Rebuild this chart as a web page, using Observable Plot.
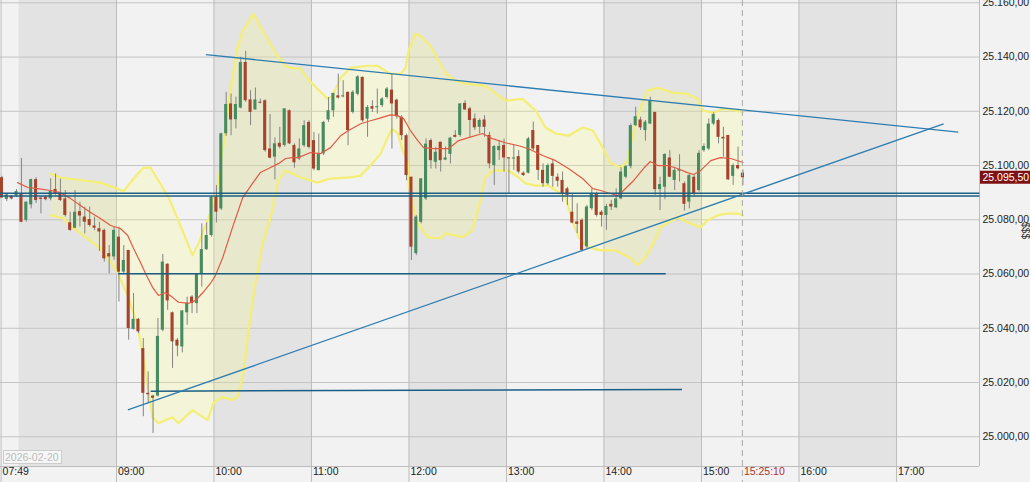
<!DOCTYPE html>
<html><head><meta charset="utf-8">
<script src="https://cdn.jsdelivr.net/npm/d3@7"></script>
<script src="https://cdn.jsdelivr.net/npm/@observablehq/plot@0.6"></script>
<style>
html,body{margin:0;padding:0;background:#f2f2f2;}
#chart{width:1030px;height:482px;overflow:hidden;}
</style></head><body><div id="chart"></div>
<script>
// ---- data ----
const sessionDate = "2026-02-20";
const sessionStart = "07:48";   // first 3-minute bar
const barMinutes = 3;
const open = [25095.5,25087.5,25088.6,25088.7,25089.6,25079.8,25085.5,25094.8,25088,25088.3,25087.7,25091.2,25089.6,25087.7,25078.9,25076.9,25083,25081,25080.1,25077.7,25076.7,25076.1,25067.5,25066.3,25073.6,25060.7,25068.7,25039.6,25043.3,25032.5,25016,25015,25015,25039.3,25063.6,25045.7,25035.6,25033.1,25045.7,25051.5,25049.1,25060.1,25069,25074.2,25088.3,25084,25111.7,25122.7,25116.9,25121.2,25138,25124.2,25120.5,25123.3,25123.9,25106.1,25103.1,25108.2,25107.4,25120.2,25107.4,25102.4,25107.3,25115.9,25109.2,25098.1,25104.3,25116.8,25120.2,25125.7,25125.3,25127,25119.6,25126.3,25132.5,25117.1,25121.7,25121.3,25122.1,25125.1,25127.8,25124.1,25117.8,25111,25095.7,25067.5,25079.1,25087.7,25109.2,25101.2,25108.6,25102,25104.1,25111.1,25111.1,25122.9,25120.9,25117.2,25114.1,25116.8,25111.1,25100,25105.5,25107.4,25102.8,25102.5,25103.3,25097.2,25097.2,25112.9,25107.4,25098.2,25093.3,25100.6,25095.7,25094.5,25091.4,25082.8,25079.2,25079.8,25070,25084.1,25089.6,25082.8,25081.6,25085.7,25084.4,25087.7,25095.7,25099.6,25114.7,25116.8,25112.9,25115.3,25119.6,25091.1,25092,25102.8,25094.5,25097.9,25093.3,25086.5,25095.7,25090.8,25105.5,25106.1,25115.3,25116.6,25110.4,25111.1,25096,25100,25097.2];
const high = [25096,25089.6,25089,25091.2,25102.6,25086.5,25095,25095.5,25088.5,25089,25095.1,25096.9,25095,25090.8,25082.8,25090.8,25086.5,25084.7,25084.7,25081,25079.1,25076.5,25070.5,25077.3,25077.3,25070.5,25068.7,25052.8,25043.6,25036.2,25023.9,25015.3,25043.6,25067.2,25063.8,25046,25036.2,25046.4,25051.5,25052.1,25060.1,25078.5,25078.8,25088.6,25092.6,25111.9,25127,25126.4,25125.2,25139.9,25142.1,25127.6,25128.6,25124.5,25124.2,25118.8,25110.2,25114.1,25120.9,25120.5,25108,25109.8,25116.5,25116.5,25112.2,25111.6,25116.3,25125.1,25126.6,25133.7,25131.3,25127,25127.6,25133.1,25132.7,25122.1,25123.9,25128.2,25125.1,25128.8,25133.7,25124.5,25118.4,25111.6,25095.7,25081.6,25095.1,25109.8,25109.8,25106.7,25108.6,25106.8,25110.4,25112.9,25122.9,25123.9,25121.5,25119,25117.2,25118.4,25112.3,25107.4,25109.2,25109.8,25102.8,25107.4,25105.5,25097.6,25110.4,25116,25107.4,25100.6,25100.6,25101.9,25096.9,25097.6,25092,25089.6,25085.9,25080.4,25085.3,25091.4,25090.2,25083.4,25085.7,25087.1,25091.4,25099.2,25100,25115.3,25121.5,25117.8,25116.6,25125.2,25119.6,25095.7,25104.3,25105.5,25099.4,25104,25093.9,25096.7,25096.3,25105.5,25108,25117.2,25119.4,25117.2,25114.1,25111.1,25100.6,25106.8,25098.4];
const low = [25088,25086.7,25087.3,25088.3,25078.9,25079.1,25084,25086,25082.2,25087,25087,25089,25086.7,25081,25075.7,25076.7,25077.3,25074.8,25077.3,25076,25068.3,25064.4,25060.1,25065,25049.7,25060.1,25035.6,25039.3,25038,25007.4,25012.3,25001.2,25014.7,25038.7,25046.6,25025.2,25029.5,25030.9,25041.1,25045.4,25045.4,25055.2,25068.7,25073.6,25078.8,25083.4,25110.7,25111,25113.5,25120.9,25123.3,25114.7,25120.5,25122.7,25104.9,25102.5,25094.7,25106.1,25106.8,25107.7,25099,25101.8,25106.7,25106.1,25098.1,25098.1,25103.7,25115.9,25117.8,25124.5,25125,25107.3,25119,25125.7,25115.9,25110.4,25119.6,25119,25121.4,25124.5,25106.1,25117.1,25109.2,25094.4,25065,25066.8,25078.5,25087.1,25098.7,25098.7,25097.6,25101.8,25100.6,25110.2,25110.4,25120.3,25110.4,25112.9,25111.7,25110.4,25098.8,25092.7,25101.9,25097.6,25089.6,25098.2,25096.9,25096,25096.9,25105.5,25094.5,25092,25092.7,25092,25092,25086.5,25085.3,25078.5,25074.9,25068.1,25069.3,25083.4,25081,25077.3,25076.1,25083.4,25084.1,25087.4,25095.1,25098.8,25114.4,25112.9,25109,25115.1,25089,25083.4,25087.4,25095.5,25090.8,25093.9,25083.2,25084,25088.4,25090.2,25104.9,25105.5,25114.7,25108,25103.1,25094.5,25092.7,25098.4,25092.7];
const close = [25088,25089.2,25087.7,25090.4,25079.1,25086.5,25094.8,25087.1,25087.5,25087.4,25090.4,25089.6,25087.1,25081.6,25076.1,25082.8,25081.4,25079.1,25077.9,25076.9,25075.5,25065.6,25066.3,25076.1,25060.7,25065,25039.9,25043.3,25038.7,25016,25015.5,25014.2,25037,25064.4,25050.1,25035,25033.4,25046.4,25049.3,25049.1,25060.1,25069,25074.2,25088.3,25082.8,25111.7,25122.5,25116.8,25122.5,25138,25123.9,25119.6,25124.2,25123,25105.5,25102.7,25108,25106.8,25120.9,25108,25101,25106.1,25114.7,25106.7,25098.7,25104.3,25115.9,25120.2,25126.6,25124.9,25125.7,25112.9,25127,25132.7,25116.5,25121.4,25120.8,25121.7,25124.5,25128.2,25122.7,25118,25111,25096.3,25069.9,25081,25095.1,25107.9,25101.8,25104.9,25101.8,25102.8,25110.1,25110.4,25122.7,25120.5,25116.6,25113.9,25116.6,25114.1,25100.6,25107,25107,25102.8,25102.5,25102.7,25097.6,25096.3,25109.8,25106.1,25098.2,25093.3,25100,25096,25094.2,25089.6,25089,25078.8,25078.3,25068.7,25084.7,25089.6,25081.6,25081.6,25084.9,25084.7,25087.7,25097.6,25099.6,25114.7,25118,25113.9,25116,25123.9,25091.1,25093,25104.1,25095.7,25098.2,25098.5,25085.7,25096.3,25089.3,25104.5,25107,25115.3,25118.8,25110.4,25109.8,25094.7,25100,25098.8,25095.5];

// Bollinger bands and moving average (x = bar position)
const upperBar = [10,12,20.2,23.7,24.9,27,29,30.5,32.1,34.2,36.2,39.1,40.3,42.4,44.2,45.5,46.9,48.3,49.4,51.6,53.5,56.5,58.2,59.2,61.3,62.7,64.7,66.8,67.8,69.5,71.5,75,77,79.7,81.8,82.8,83.4,84.8,85.9,87.9,91,93,95.1,99.2,103.3,106.8,109.5,111.5,113.6,116.2,119.1,121.2,122.8,124.8,126.9,128.3,129.6,131,132.4,134.5,137.8,140.6,142.7,143.9,146,148,150.9,152];
const upperVal = [25097,25095.6,25093.7,25091.5,25090.4,25095.2,25099.2,25099.2,25094.5,25088.2,25079.7,25066.9,25071.3,25080.8,25091.9,25108.1,25128.7,25143.4,25149.7,25155.9,25149.7,25140.5,25136.8,25136,25135.7,25132,25128.3,25124.6,25125.7,25132.4,25136,25136.8,25136.8,25133.8,25133.8,25136,25142.3,25148.6,25147.8,25144.1,25134.2,25131.3,25130.2,25129.4,25123.9,25124.6,25120.2,25114,25111.8,25111,25114,25112.9,25108.1,25101.1,25099.2,25101.8,25112.9,25121.3,25127.6,25128.7,25126.8,25126.5,25124.6,25120.2,25119.5,25121,25120.2,25119.5];
const lowerBar = [10,12.6,14.5,16.7,20.2,22.3,23.7,25.8,27.8,29,30.5,30.9,32.1,35,36.2,39.1,42.2,43.4,45.2,47.3,48.3,49.4,50.6,52,53.5,55.5,56.7,58.2,59.6,61.3,64.7,67.4,71.5,73.6,75.6,77.7,79.1,80.1,81.2,82.2,83.2,83.4,84.2,85.3,87.3,90,91,94.5,96.5,97.8,99.2,100.6,103.9,106,107.4,109.5,112.1,113.6,115.6,117,118.3,120.3,122.8,125.9,129,130.4,132,133.7,135.1,138.6,141.2,143.3,144.7,146.8,148.8,150.9,152];
const lowerVal = [25081.6,25080.5,25077.2,25074.2,25069.4,25064.3,25060.6,25052.1,25041.1,25028.9,25011.7,25007.2,25005,25007.2,25005,25009.8,25006.1,25012.4,25014.6,25013.5,25014.6,25022,25039.3,25056.6,25071.3,25083.4,25094.5,25098.1,25097,25095.6,25093.7,25095.2,25095.6,25096.3,25100,25104.4,25110.3,25113.6,25111.8,25105.5,25101.8,25093.4,25086,25078.6,25073.5,25073.1,25075,25073.5,25076.1,25084.5,25095.6,25098.1,25098.1,25095.6,25093.4,25092.6,25092.6,25090.8,25088.2,25079.7,25073.5,25069.8,25068.7,25068.7,25065.8,25063.2,25066.1,25071.3,25077.2,25080.8,25078.6,25077.2,25079.7,25081.6,25082.3,25082.3,25081.6];
const maBar = [3.2,5.3,7.3,10,12,14.1,16.1,18.2,20.2,22.3,24.3,25.8,27,28.4,29.5,30.9,32.1,33.6,35,36.2,38.3,39.7,41.1,42.8,43.8,45.3,47.3,49.4,51.4,53,54.7,56.7,58.2,59.6,60.8,63.3,65.4,67.4,69.5,71.1,73.6,75.6,77.7,79.7,81.1,82.4,83.8,85.3,86.5,88.5,91.6,93.7,95.7,98.6,100.6,103.3,106,108,110.9,113.6,116.2,119.1,121.2,122.8,124.8,126.3,127.5,129.6,131.6,133,134.5,136.5,138.6,140.6,141.9,143.3,145.4,147.4,149.5,152];
const maVal = [25093.7,25091.9,25091.5,25090.8,25090,25087.8,25085.3,25082.7,25080.5,25077.9,25076.8,25074.2,25069.4,25064.3,25060,25055.1,25052.1,25053.2,25051.4,25049.6,25049.2,25050.3,25052.9,25056.6,25059.5,25066.1,25077.2,25088.2,25093.4,25097.4,25098.9,25100.7,25102.6,25102.9,25102.9,25104.8,25104.4,25106.6,25111,25112.9,25115.4,25116.5,25117.6,25118.7,25118.4,25117.3,25112.9,25109.2,25106.6,25106.2,25106.2,25109.2,25110.3,25111.8,25109.9,25108.4,25107.3,25106.2,25103.7,25101.8,25098.9,25095.2,25091.5,25090.8,25089.7,25088.9,25090.8,25094.5,25098.9,25101.5,25100,25100,25098.9,25097.4,25096.7,25098.1,25101.8,25102.9,25102.6,25101.1];

// drawn trend lines
const trendStart = ["09:55","09:07"];
const trendStartPrice = [25140.9,25009.9];
const trendEnd = ["17:38","17:29"];
const trendEndPrice = [25112.3,25115.4];
const levelStart = ["07:48","07:48","09:01","09:21"];
const levelEnd = ["17:51","17:51","14:38","14:48"];
const levelStartPrice = [25089.8,25088.8,25060.1,25016.8];
const levelEndPrice = [25089.8,25088.8,25060.1,25017.4];

const yTicks = [25000,25020,25040,25060,25080,25100,25120,25140,25160];
const xTickLabels = ["07:49","09:00","10:00","11:00","12:00","13:00","14:00","15:00","16:00","17:00"];
const shadedHours = ["08:00","10:00","12:00","14:00","16:00"];
const nowLabel = "15:25:10";
const lastPrice = 25095.5;
const axisUnit = "$$$";

// ---- helpers ----
const toMin = s => { const [h,m,sec] = s.split(":").map(Number); return h*60 + m + (sec||0)/60; };
const barPos = b => toMin(sessionStart) + barMinutes*b + barMinutes/2;
const fmtDE = d3.formatLocale({decimal: ",", thousands: ".", grouping: [3], currency: ["", ""]}).format(",.2f");

const candles = open.map((o,i) => {
  const c = close[i];
  let lo = Math.min(o,c), hi = Math.max(o,c);
  if (hi - lo < 0.4) { const m = (hi+lo)/2; lo = m-0.2; hi = m+0.2; }
  return {t: barPos(i), o, h: high[i], l: low[i], c, lo, hi, up: c >= o};
});
const upper = upperBar.map((b,i) => ({t: barPos(b), p: upperVal[i]}));
const lower = lowerBar.map((b,i) => ({t: barPos(b), p: lowerVal[i]}));
const ma = maBar.map((b,i) => ({t: barPos(b), p: maVal[i]}));
const bandPoly = upper.concat(lower.slice().reverse());
const trends = trendStart.map((s,i) => ({x1: toMin(s), y1: trendStartPrice[i], x2: toMin(trendEnd[i]), y2: trendEndPrice[i]}));
const levels = levelStart.map((s,i) => ({x1: toMin(s), y1: levelStartPrice[i], x2: toMin(levelEnd[i]), y2: levelEndPrice[i]}));

const xDomain = [toMin("07:48:37"), toMin("17:51:05")];
const yDomain = [24989.03, 25160.85];
const xMax = xDomain[1];
const font = "'Liberation Sans', Arial, sans-serif";

const chart = Plot.plot({
  width: 1030, height: 482,
  marginTop: 0, marginRight: 51, marginBottom: 16, marginLeft: 0,
  style: {background: "#f2f2f2", fontFamily: font, fontSize: "10.5px"},
  x: {type: "linear", domain: xDomain, axis: null},
  y: {domain: yDomain, axis: null},
  marks: [
    Plot.rect(shadedHours, {x1: d => toMin(d), x2: d => toMin(d) + 60, fill: "#e3e3e3"}),
    Plot.ruleY(yTicks, {stroke: "#c4c4c4", strokeWidth: 1}),
    Plot.ruleX(xTickLabels, {x: d => toMin(d), stroke: "#bebebe", insetBottom: -16}),
    Plot.ruleX([xMax], {stroke: "#bdbdbd"}),
    Plot.ruleY([yDomain[0]], {stroke: "#bdbdbd"}),
    Plot.line(bandPoly, {x: "t", y: "p", fill: "#ffff7a", fillOpacity: 0.2, stroke: "none"}),
    Plot.line(upper, {x: "t", y: "p", stroke: "#f4ef74", strokeWidth: 2.2}),
    Plot.line(lower, {x: "t", y: "p", stroke: "#f4ef74", strokeWidth: 2.2}),
    Plot.ruleX(candles, {x: "t", y1: "l", y2: "h", stroke: "#848484", strokeWidth: 1}),
    Plot.rect(candles, {x1: d => d.t - 0.95, x2: d => d.t + 0.95, y1: "lo", y2: "hi", fill: d => d.up ? "#468c5f" : "#a6432c"}),
    Plot.line(ma, {x: "t", y: "p", stroke: "#e05a45", strokeWidth: 1.2}),
    Plot.link(levels, {x1: "x1", y1: "y1", x2: "x2", y2: "y2", stroke: "#1c5f84", strokeWidth: 1.5}),
    Plot.link(trends, {x1: "x1", y1: "y1", x2: "x2", y2: "y2", stroke: "#2e7db0", strokeWidth: 1.3}),
    Plot.ruleX([toMin(nowLabel)], {stroke: "#a9a9a9", strokeDasharray: "6,4", insetBottom: -16}),
    Plot.text(yTicks, {x: xMax, y: d => d, text: d => fmtDE(d), dx: 3, textAnchor: "start", fill: "#222"}),
    Plot.text(xTickLabels, {x: d => toMin(d), text: d => d, frameAnchor: "bottom", dy: 8, dx: 1.5, textAnchor: "start", fill: "#222"}),
    Plot.text([nowLabel], {x: d => toMin(d), text: d => d, frameAnchor: "bottom", dy: 8, dx: 1.5, textAnchor: "start", fill: "#b3302a"}),
    Plot.rect([lastPrice], {x1: xMax, x2: xMax + 40, y1: d => d - 2.4, y2: d => d + 2.4, fill: "#7e1111", insetLeft: 1}),
    Plot.text([lastPrice], {x: xMax, y: d => d, text: d => fmtDE(d), dx: 3, textAnchor: "start", fill: "#ffffff"}),
    Plot.text([axisUnit], {x: xMax, y: 25076, text: d => d, dx: 46, rotate: 90, fill: "#333", fontSize: 10}),
    (index, scales, values, dims) => {
      const g = d3.create("svg:g");
      const yb = dims.height - dims.marginBottom;
      g.append("rect").attr("x", 3.5).attr("y", yb - 15.5).attr("width", 58).attr("height", 13)
        .attr("fill", "#f6f6f6").attr("stroke", "#cdcdcd");
      g.append("text").attr("x", 5).attr("y", yb - 5.2).attr("fill", "#bcbcbc")
        .attr("text-anchor", "start")
        .attr("font-family", font).attr("font-size", "10.5px").text(sessionDate);
      return g.node();
    }
  ]
});
document.getElementById("chart").append(chart);
</script>
</body></html>
